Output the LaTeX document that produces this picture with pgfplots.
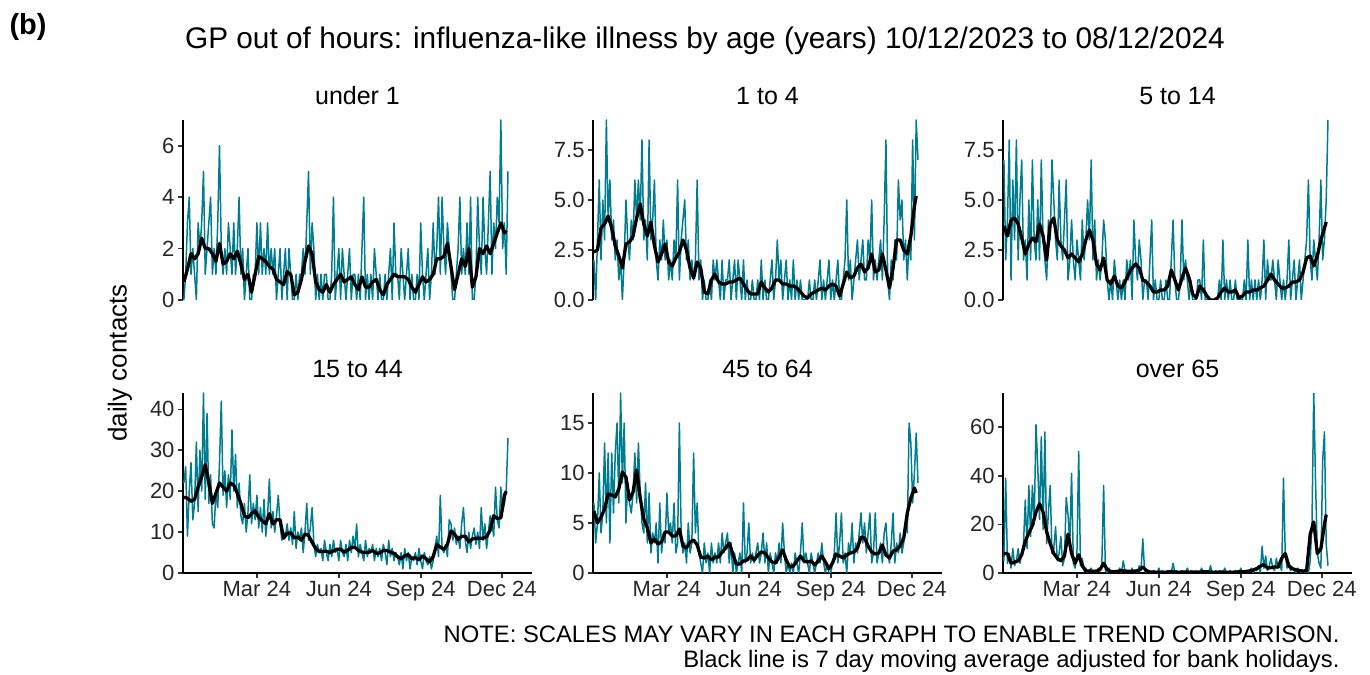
\documentclass[border=0pt]{standalone}
\usepackage{pgfplots}
\pgfplotsset{compat=1.18}
\usepackage{pgfplotstable}
\usepackage{fontspec}
\setmainfont{Liberation Sans}
\definecolor{ili}{HTML}{007C91}

% daily contacts, every second day from 10/12/2023 (day 0)
\pgfplotstableread{
day u1 a14 a514 a1544 a4564 o65
0 0 2 7 22 7 5
2 1 0 2 26 3 39
4 3 3 4 9 5 4
6 4 6 8 20 10 8
8 1 2 1 27 4 2
10 2 5 6 13 6 10
12 1 3 3 17 13 3
14 0 9 8 32 5 5
16 3 4 2 15 12 10
18 2 6 5 30 3 4
20 3 3 7 20 12 8
22 5 4 2 44 6 12
24 1 2 3 18 12 30
26 2 3 1 39 15 10
28 3 1 5 17 7 36
30 4 2 2 24 18 15
32 1 0 7 12 9 36
34 2 2 3 11 15 20
36 1 5 2 20 5 61
38 3 3 5 16 9 44
40 6 2 2 27 7 22
42 2 4 7 42 6 56
44 1 3 3 19 8 18
46 2 6 2 25 12 58
48 1 4 1 16 7 12
50 3 6 4 24 13 25
52 2 4 3 18 8 36
54 1 8 7 35 5 8
56 3 3 5 20 4 10
58 1 4 3 29 9 19
60 2 2 2 16 3 5
62 4 8 6 22 8 8
64 1 3 3 14 2 15
66 2 4 2 12 4 3
68 0 6 4 17 3 6
70 1 2 6 10 5 31
72 2 1 1 15 1 24
74 0 3 2 24 7 12
76 0 2 4 12 2 41
78 1 4 2 17 4 4
80 1 2 1 13 3 2
82 3 3 3 19 8 8
84 1 1 2 11 4 50
86 3 2 1 16 5 3
88 1 1 4 10 3 6
90 2 3 2 18 7 1
92 1 2 3 9 2 2
94 3 6 5 14 3 0
96 1 1 3 23 15 1
98 2 3 7 11 4 2
100 1 4 2 15 2 0
102 2 5 4 10 3 1
104 0 2 1 14 1 0
106 1 3 2 19 5 2
108 2 1 1 12 2 1
110 0 2 2 8 3 4
112 1 1 4 10 12 36
114 2 2 3 9 4 1
116 0 6 1 12 7 0
118 2 1 0 8 2 2
120 1 2 1 11 1 0
122 0 0 0 7 0 1
124 0 1 2 15 3 0
126 1 0 1 6 1 1
128 0 0 0 10 2 0
130 1 1 1 8 0 2
132 1 0 0 11 3 0
134 2 2 1 5 1 5
136 1 1 0 10 2 1
138 3 2 2 17 1 0
140 5 1 1 8 3 1
142 1 0 2 11 1 0
144 3 2 0 16 4 2
146 2 0 4 7 2 0
148 0 1 2 4 3 1
150 1 1 1 7 4 0
152 0 2 3 5 1 3
154 1 0 2 6 3 1
156 0 1 0 3 0 14
158 1 2 1 8 2 1
160 1 0 1 5 0 0
162 0 2 0 3 1 1
164 0 1 2 7 2 0
166 1 0 4 4 0 0
168 4 2 0 8 7 1
170 0 0 1 5 1 0
172 1 1 0 6 2 0
174 2 0 0 3 5 2
176 0 0 1 8 1 0
178 2 1 0 5 2 1
180 1 0 0 4 1 0
182 0 0 1 7 2 0
184 1 1 0 3 3 1
186 2 0 0 8 1 0
188 0 2 2 5 2 0
190 1 0 4 9 4 4
192 1 1 1 6 1 0
194 0 0 0 12 3 1
196 1 0 0 4 0 0
198 0 1 1 7 2 0
200 2 2 4 5 1 1
202 4 0 1 3 0 0
204 0 1 2 8 2 0
206 1 3 1 4 1 2
208 0 1 0 6 3 0
210 1 2 1 5 1 1
212 0 0 0 7 5 0
214 2 1 0 3 2 0
216 1 2 0 6 0 1
218 0 0 1 4 1 0
220 1 1 1 6 0 0
222 0 0 0 3 1 2
224 0 2 3 7 0 0
226 1 0 0 5 2 0
228 0 1 0 2 1 1
230 1 0 0 8 0 0
232 2 1 0 4 2 3
234 0 0 0 6 5 0
236 3 0 0 3 1 0
238 1 0 0 5 2 1
240 1 0 0 4 1 0
242 0 1 1 2 0 1
244 2 0 0 5 2 0
246 1 0 3 1 1 0
248 0 1 0 6 0 2
250 1 0 1 3 1 0
252 2 1 0 5 2 0
254 0 2 1 1 1 1
256 1 0 0 4 3 0
258 0 1 0 3 1 0
260 0 0 1 5 0 1
262 1 1 0 2 1 0
264 0 2 0 6 0 0
266 3 0 0 3 0 2
268 1 1 0 1 1 0
270 0 0 1 5 2 1
272 1 1 0 3 6 0
274 2 2 3 2 1 0
276 0 0 0 4 3 1
278 1 0 1 1 6 2
280 3 1 0 3 1 0
282 1 2 1 6 2 2
284 2 5 0 9 0 1
286 4 1 1 4 3 3
288 1 2 0 19 2 0
290 4 0 1 6 5 11
292 2 1 3 5 1 2
294 1 2 0 7 3 7
296 3 3 2 4 2 1
298 2 1 1 13 4 3
300 1 2 1 12 6 6
302 0 3 2 8 3 2
304 0 1 1 11 5 1
306 1 1 0 7 2 6
308 2 3 2 9 4 2
310 4 2 1 6 6 3
312 1 5 0 12 1 1
314 2 1 1 16 2 39
316 1 2 0 8 6 8
318 3 1 1 5 1 2
320 1 2 3 10 2 3
322 4 3 0 6 3 1
324 0 1 1 9 1 2
326 0 4 2 11 4 1
328 1 8 0 7 5 0
330 4 1 1 10 2 2
332 2 0 2 6 1 1
334 1 2 0 16 3 0
336 4 1 1 8 6 1
338 2 3 2 12 1 0
340 1 2 3 6 3 1
342 3 6 6 10 2 0
344 5 4 2 14 4 5
346 1 5 1 12 2 20
348 3 2 3 9 3 74
350 2 3 2 21 5 38
352 4 1 1 13 4 8
354 3 3 3 11 15 4
356 7 2 6 21 13 2
358 2 8 2 15 7 46
360 3 3 3 17 10 58
362 1 9 5 20 14 12
364 5 7 9 33 9 3
}\daily

% 7 day moving average
\pgfplotstableread{
day u1 a14 a514 a1544 a4564 o65
0 0.7 2.4 3.7 18.5 6.2 8
4 1.2 2.5 3.2 18.3 5.0 8
8 1.8 3.6 4.0 17.5 5.6 4
12 1.6 3.8 4.1 18 6.4 4.5
16 1.8 4.2 3.8 21 7.9 5
20 2.4 3.6 3.1 23.5 7.8 7.5
24 2.0 2.7 2.3 26.5 7.6 13
28 2.0 2.2 2.8 22 8.4 16.5
32 1.8 1.6 3.1 17 10.1 19.5
36 1.5 2.8 2.9 19.5 9.6 25
40 2.2 2.9 3.8 22 7.3 28.5
44 1.4 3.2 3.2 21 8.1 25
48 1.5 4.1 2.0 20 10.3 17
52 1.8 4.8 3.8 22 7.5 12
56 1.6 3.8 4.1 21.5 5.4 8
60 1.9 3.2 3.0 19.5 4.5 6
64 1.4 3.9 2.7 17 3.0 5
68 0.8 2.7 2.5 14 3.4 7
72 1.0 1.9 2.1 13.5 2.9 16
76 0.3 2.3 2.3 14.5 3.1 8
80 1.0 2.8 2.1 15.2 4.1 4
84 1.7 1.9 1.9 13.6 4.1 7.5
88 1.6 1.7 2.3 12.8 3.7 3
92 1.5 2.1 3.0 12 3.7 0.8
96 1.3 2.4 3.5 14.5 4.4 0.8
100 1.2 3.0 3.0 12 2.7 0.7
104 0.8 2.5 1.8 13 2.5 0.8
108 0.7 1.6 1.5 13 3.1 1.4
112 0.6 1.1 2.1 8.5 3.3 4
116 1.1 1.9 1.0 9.7 2.8 1.5
120 1.0 1.6 0.8 9.8 1.6 0.6
124 0.2 0.4 1.2 8.6 1.5 0.5
128 0.3 0.3 0.7 8.8 1.7 0.7
132 0.8 1.0 0.6 8 1.3 1
136 1.5 1.3 0.9 9.5 1.6 0.8
140 2.1 0.9 1.3 9.2 1.6 0.7
144 1.8 0.8 1.6 7.5 2.1 0.7
148 0.7 0.8 1.8 6 2.5 0.8
152 0.4 0.9 1.6 5.2 3.0 1.2
156 0.3 0.9 1.0 5.3 1.9 2.5
160 0.6 1.0 0.9 5.3 0.9 1
164 0.3 1.1 0.7 5 0.9 0.4
168 0.6 0.8 0.4 5.4 1.2 0.4
172 0.8 0.5 0.4 5.8 1.3 0.3
176 1.0 0.3 0.5 5.8 1.7 0.3
180 0.7 0.3 0.5 5.1 1.3 0.3
184 0.8 0.3 0.7 5.6 1.8 0.4
188 0.9 0.9 1.5 6.2 2.1 0.6
192 0.6 0.6 1.0 6.3 2.0 0.4
196 0.4 0.4 0.5 5.5 1.5 0.3
200 0.9 0.6 1.1 5.1 1.1 0.4
204 0.5 1.0 1.6 5 1.0 0.4
208 0.5 1.0 1.1 5.1 1.6 0.3
212 0.7 0.8 0.3 5.5 2.3 0.4
216 0.8 0.8 0.1 4.8 1.3 0.3
220 0.4 0.7 0.7 4.9 0.6 0.4
224 0.2 0.7 0.5 5.5 0.7 0.5
228 0.6 0.6 0.2 5.5 1.2 0.5
232 0.8 0.4 0.0 5.1 1.7 0.4
236 1.0 0.2 0.0 4.8 1.2 0.3
240 0.9 0.1 0.1 4 1.1 0.3
244 0.9 0.3 0.4 3.5 1.2 0.4
248 0.9 0.4 0.6 4.2 0.8 0.3
252 0.8 0.5 0.4 4.5 1.2 0.3
256 0.5 0.6 0.4 3.5 1.7 0.3
260 0.3 0.5 0.5 3.8 1.1 0.4
264 0.6 0.7 0.1 3.2 0.4 0.5
268 0.9 0.8 0.2 4.2 1.0 0.5
272 0.7 0.7 0.4 3.5 1.9 0.6
276 0.8 0.2 0.4 2.7 1.7 0.9
280 1.0 0.8 0.5 4 1.5 1.2
284 1.6 1.4 0.5 7 1.8 1.8
288 1.6 1.1 0.6 6.3 2.0 2.8
292 1.7 1.2 0.7 5.8 2.1 3.5
296 2.2 1.6 1.0 7 2.5 2
300 1.3 1.8 1.3 10.3 3.6 2.2
304 0.4 1.4 1.0 9.5 3.5 2.5
308 1.0 1.6 0.8 8.2 2.7 2.5
312 1.6 2.3 0.6 9 2.1 6
316 1.3 1.4 0.6 9 1.9 8
320 2.0 1.5 0.7 7.6 2.0 3
324 0.5 2.3 0.9 8.3 2.8 1.8
328 0.9 1.5 0.9 8.5 1.8 1.3
332 2.0 0.6 1.0 8.5 1.5 1
336 1.8 1.6 1.4 8.5 2.2 0.8
340 2.1 3.0 2.1 8.9 2.3 1
344 1.8 3.0 2.2 10.5 2.7 16
348 2.2 2.5 1.7 14 3.5 21
352 2.6 2.3 2.2 13.3 6.0 8
356 3.0 3.2 3.0 13.5 7.5 10
360 2.6 4.7 3.6 19 8.5 20
362 2.7 5.2 3.9 20 8.0 24
}\movavg

\pgfplotsset{
  panel/.style={
    scale only axis, width=349bp, height=180bp,
    xmin=-1, xmax=391, ymin=0,
    axis y line*=left, axis x line*=bottom,
    axis line style={line width=2.4bp, black, -},
    tick style={line width=1.6bp, black!80},
    major tick length=5bp, tick align=outside,
    tick label style={font=\fontsize{22bp}{24bp}\selectfont, text=black!85},
    /pgf/number format/assume math mode=true,
    title style={at={(0.5,1)}, anchor=base, yshift=10bp,
      font=\fontsize{25bp}{28bp}\selectfont},
    xtick={82,174,266,357},
    xticklabels={Mar 24,Jun 24,Sep 24,Dec 24},
  },
  toprow/.style={panel, axis x line=none, xtick=\empty},
  raw/.style={ili, line width=1.5bp, line join=round},
  avg/.style={black, line width=3.3bp, line join=round},
}

\begin{document}
\begin{tikzpicture}[x=1bp,y=1bp]
\path[use as bounding box] (0,0) rectangle (1370,675);

\node[anchor=base west, font=\bfseries\fontsize{29bp}{32bp}\selectfont] at (6,640) {(b)};
\node[anchor=base, font=\fontsize{29.8bp}{32bp}\selectfont] at (705,626)
  {GP out of hours: influenza-like illness by age (years) 10/12/2023 to 08/12/2024};
\node[rotate=90, font=\fontsize{26bp}{30bp}\selectfont] at (120,312) {daily contacts};
\node[anchor=base east, font=\fontsize{23.8bp}{26bp}\selectfont] at (1343,32)
  {NOTE: SCALES MAY VARY IN EACH GRAPH TO ENABLE TREND COMPARISON.};
\node[anchor=base east, font=\fontsize{23.8bp}{26bp}\selectfont] at (1343,7)
  {Black line is 7 day moving average adjusted for bank holidays.};

\begin{axis}[toprow, at={(183bp,375bp)}, title={under 1},
  ymax=7, ytick={0,2,4,6}, yticklabels={0,2,4,6}]
  \addplot[raw] table[x=day, y=u1] {\daily};
  \addplot[avg] table[x=day, y=u1] {\movavg};
\end{axis}

\begin{axis}[toprow, at={(593bp,375bp)}, title={1 to 4},
  ymax=9, ytick={0,2.5,5,7.5}, yticklabels={0.0,2.5,5.0,7.5}]
  \addplot[raw] table[x=day, y=a14] {\daily};
  \addplot[avg] table[x=day, y=a14] {\movavg};
\end{axis}

\begin{axis}[toprow, at={(1003bp,375bp)}, title={5 to 14},
  ymax=9, ytick={0,2.5,5,7.5}, yticklabels={0.0,2.5,5.0,7.5}]
  \addplot[raw] table[x=day, y=a514] {\daily};
  \addplot[avg] table[x=day, y=a514] {\movavg};
\end{axis}

\begin{axis}[panel, at={(183bp,102bp)}, title={15 to 44},
  ymax=44, ytick={0,10,20,30,40}, yticklabels={0,10,20,30,40}]
  \addplot[raw] table[x=day, y=a1544] {\daily};
  \addplot[avg] table[x=day, y=a1544] {\movavg};
\end{axis}

\begin{axis}[panel, at={(593bp,102bp)}, title={45 to 64},
  ymax=18, ytick={0,5,10,15}, yticklabels={0,5,10,15}]
  \addplot[raw] table[x=day, y=a4564] {\daily};
  \addplot[avg] table[x=day, y=a4564] {\movavg};
\end{axis}

\begin{axis}[panel, at={(1003bp,102bp)}, title={over 65},
  ymax=74, ytick={0,20,40,60}, yticklabels={0,20,40,60}]
  \addplot[raw] table[x=day, y=o65] {\daily};
  \addplot[avg] table[x=day, y=o65] {\movavg};
\end{axis}
\end{tikzpicture}
\end{document}
